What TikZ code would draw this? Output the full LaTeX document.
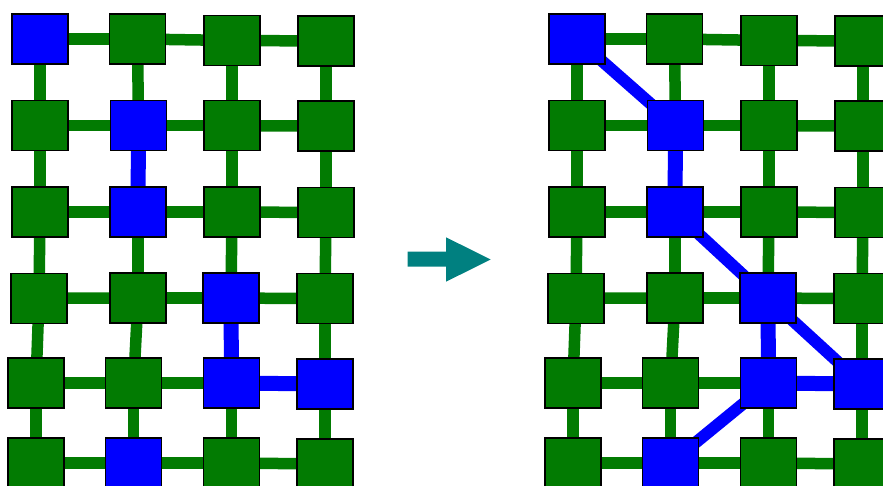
\documentclass[tikz,border=0pt]{standalone}
\definecolor{gr}{RGB}{2,123,2}
\definecolor{bl}{RGB}{0,0,255}
\definecolor{tl}{RGB}{0,128,128}
\pgfdeclarelayer{bg}
\pgfsetlayers{bg,main}
\begin{document}
\begin{tikzpicture}[x=1pt,y=-1pt,
  cell/.style={draw=black,line width=1.2pt,minimum width=56pt,minimum height=50pt,inner sep=0pt,outer sep=0pt},
  gcell/.style={cell,fill=gr},
  bcell/.style={cell,fill=bl},
  gedge/.style={draw=gr,line width=11.5pt},
  bedge/.style={draw=bl,line width=15pt},
  bdiag/.style={draw=bl,line width=12pt},
  arrowshape/.style={fill=tl,draw=none}]
\useasboundingbox (0,0) rectangle (883,486);
% nodes: left grid (L) and right grid (R, shifted by 537)
\foreach \n/\x/\y/\s in {
  00/40/39/b, 01/137.5/39/g, 02/232/40.5/g, 03/326/41/g,
  10/40/125.7/g, 11/138.5/125.7/b, 12/232/125.7/g, 13/326/126/g,
  20/40/212/g, 21/138/212/b, 22/232/212/g, 23/326/212.5/g,
  30/39/298.3/g, 31/138/298/g, 32/231/298/b, 33/325/298.7/g,
  40/36/383/g, 41/133.7/383/g, 42/231.5/383/b, 43/325/384/b,
  50/36/463/g, 51/133.7/463/b, 52/231.5/463/g, 53/325/464/g}
{
  \node[\s cell] (L\n) at (\x,\y) {};
  \node[\s cell] (R\n) at (\x+537,\y) {};
}
\begin{pgfonlayer}{bg}
  % green grid edges
  \foreach \g in {L,R}{
    \foreach \r in {0,...,5}{
      \foreach \c in {0,1,2}{
        \pgfmathtruncatemacro\cc{\c+1}
        \draw[gedge] (\g\r\c.center) -- (\g\r\cc.center);
      }
    }
    \foreach \r in {0,...,4}{
      \foreach \c in {0,...,3}{
        \pgfmathtruncatemacro\rr{\r+1}
        \draw[gedge] (\g\r\c.center) -- (\g\rr\c.center);
      }
    }
    % blue straight edges (both grids)
    \draw[bedge] (\g11.center) -- (\g21.center);
    \draw[bedge] (\g32.center) -- (\g42.center);
    \draw[bedge] (\g42.center) -- (\g43.center);
  }
  % blue diagonal edges (right grid)
  \draw[bdiag] (R00.center) -- (R11.center);
  \draw[bdiag] (R21.center) -- (R32.center);
  \draw[bdiag] (R32.center) -- (R43.center);
  \draw[bdiag] (R42.center) -- (R51.center);
\end{pgfonlayer}
% arrow
\fill[arrowshape] (407.7,251.7) -- (446,251.7) -- (446,237.3) -- (490.7,259.5)
  -- (446,281.7) -- (446,266.7) -- (407.7,266.7) -- cycle;
\end{tikzpicture}
\end{document}
